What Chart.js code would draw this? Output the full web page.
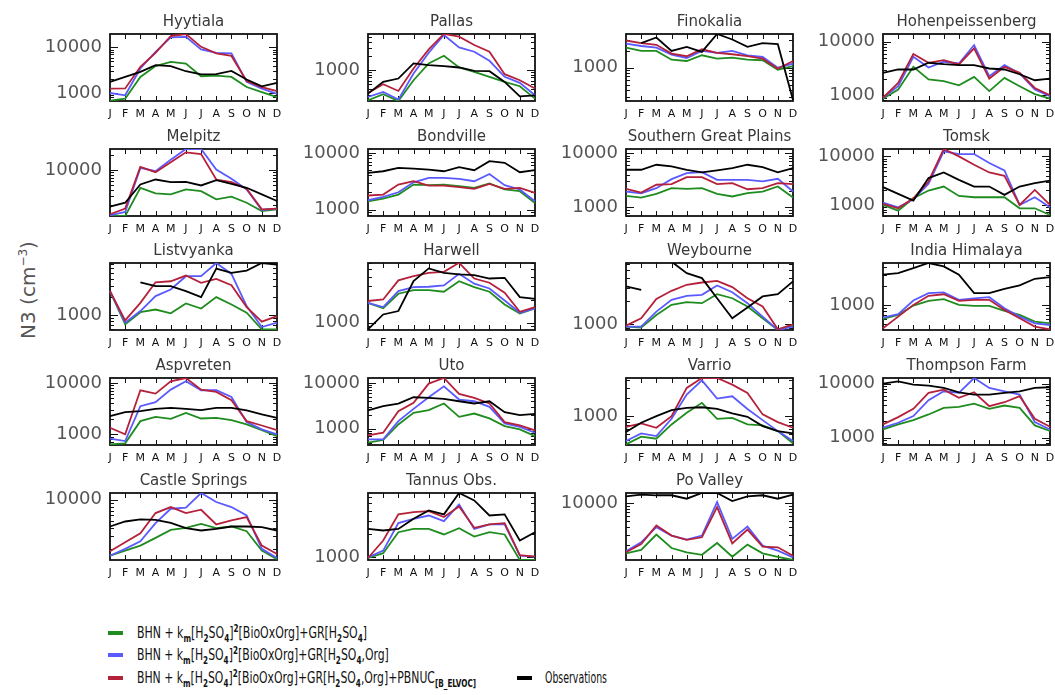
<!DOCTYPE html>
<html>
<head>
<meta charset="utf-8">
<script src="https://cdn.jsdelivr.net/npm/chart.js@4.4.0/dist/chart.umd.min.js"></script>
<style>
  body { margin: 0; width: 1055px; height: 695px; background: #fff; position: relative; overflow: hidden; font-family: "DejaVu Sans", sans-serif; }
  canvas.panel { position: absolute; }
  #ylab { position: absolute; left: 28px; top: 290px; transform: translate(-50%, -50%) rotate(-90deg); font-size: 20px; color: #555; white-space: nowrap; }
  .leg { position: absolute; font-family: "DejaVu Sans Condensed", "DejaVu Sans", sans-serif; font-size: 15px; color: #111; white-space: nowrap; line-height: 18px; }
  .leg .sw { position: absolute; left: 0; top: 7px; width: 15px; height: 4px; }
  .leg .txt { position: absolute; top: 0; display: inline-block; transform-origin: left center; }
  .leg sub, .leg sup { font-size: 10px; font-weight: bold; line-height: 0; }
</style>
</head>
<body>
<div id="ylab">N3 (cm<sup style="font-size:12px">−3</sup>)</div>
<script>
// months on the x axis
const months = ['J','F','M','A','M','J','J','A','S','O','N','D'];

const stations = ['Hyytiala','Pallas','Finokalia','Hohenpeissenberg',
                  'Melpitz','Bondville','Southern Great Plains','Tomsk',
                  'Listvyanka','Harwell','Weybourne','India Himalaya',
                  'Aspvreten','Uto','Varrio','Thompson Farm',
                  'Castle Springs','Tannus Obs.','Po Valley'];

// y axis range of each panel (log scale)
const yRanges = [
  [667,19700],[220,5900],[260,3900],[783,13900],
  [1200,26700],[770,11700],[690,11860],[592,14190],
  [575,7290],[802,6030],[843,6250],[403,4550],
  [622,12500],[442,12840],[329,4350],[733,12710],
  [1390,12450],[923,6840],[1140,14680]
];

const decadeTicks = [100, 1000, 10000, 100000];

// BHN + km[H2SO4]^2[BioOxOrg]+GR[H2SO4]
const grH2SO4 = [
  [680,750,2250,3900,4800,4400,2330,2400,2250,1350,1050,810],
  [228,306,220,610,1390,2030,1140,920,720,562,454,247],
  [2250,1970,1970,1380,1310,1650,1440,1500,1380,1350,920,1060],
  [865,1280,3400,1970,1830,1540,2200,1200,2110,1480,1050,865],
  [1200,1200,4430,3410,3260,4100,3800,2590,2930,2220,1510,1630],
  [1400,1560,1840,2760,2690,2760,2580,2410,2880,2260,2110,1310],
  [1620,1510,1770,2250,2190,2250,1770,1580,1815,1950,2420,1510],
  [1000,764,1370,1980,2390,1530,1440,1440,1440,853,853,621],
  [2510,712,1130,1250,1080,1570,1300,2000,1510,1110,589,589],
  [1820,1540,2390,2670,2670,2540,3490,2920,2540,1730,1320,1540],
  [933,906,1320,1790,1940,1880,2460,2180,1700,1200,843,961],
  [601,695,976,1160,1230,1000,963,963,804,695,545,514],
  [640,670,1810,2200,2010,2620,2040,2100,1890,1560,1210,929],
  [497,568,1240,2230,2550,3560,1820,2150,1680,1140,970,693],
  [337,453,419,727,1140,1670,903,938,727,699,562,350],
  [1420,1760,2110,2690,3560,3720,4280,3420,3940,3560,1690,1330],
  [1600,1890,2230,2870,3730,3980,4540,3940,4160,3570,1890,1430],
  [980,1130,2120,2340,2340,1980,2390,1860,2120,1980,923,923],
  [1470,1670,3010,1800,1530,1390,2180,1290,2050,1470,1290,1140]
];

// BHN + km[H2SO4]^2[BioOxOrg]+GR[H2SO4,Org]
const grH2SO4Org = [
  [1000,890,3450,8000,16600,17000,9000,7600,7400,1750,1250,960],
  [268,343,235,848,2350,5620,3060,2470,1585,720,535,291],
  [2650,2400,2250,1700,1480,1970,1820,1970,1650,1540,1000,1180],
  [900,1480,5230,3300,4220,3920,8650,2280,3650,2550,1280,960],
  [1240,1445,11140,9550,16300,26700,26700,10300,6710,4100,1585,1690],
  [1460,1670,2020,3030,3620,3620,3480,3160,4250,2690,2260,1400],
  [1950,1815,2250,3300,4260,4450,3200,3200,3200,2990,3350,1950],
  [1120,896,1310,2720,12700,11170,11170,7280,5130,1000,1440,896],
  [2510,758,1180,2080,2670,4420,4420,7290,4820,1420,644,758],
  [1820,1600,2590,2920,2950,3070,4350,3230,2800,1950,1350,1540],
  [933,933,1460,2080,2340,2410,3190,2610,1880,1260,843,933],
  [631,713,1170,1530,1570,1200,1270,1320,885,654,514,483],
  [824,743,3530,4230,7430,10770,7220,7220,5350,1730,1250,1000],
  [586,586,1470,2720,4880,8470,4350,3990,3010,1310,1100,818],
  [383,514,464,903,2300,3980,1970,2150,1320,858,562,383],
  [1530,1890,2510,4930,7220,6730,12710,8320,7220,6280,1940,1420],
  [1600,2000,2570,4640,7440,7690,12450,9260,7860,5970,2000,1480],
  [1000,1220,2780,3160,3490,2950,4860,2340,2670,2670,1050,1020],
  [1585,2240,3980,2890,2480,2890,10390,2550,4080,1970,1630,1260]
];

// ... +GR[H2SO4,Org]+PBNUC[B_ELVOC]
const grOrgPbnuc = [
  [1250,1260,3750,7600,17800,19700,10300,7400,6500,1830,1350,1100],
  [327,500,360,1085,2770,5910,5180,3430,2470,820,610,405],
  [3000,2700,2520,1770,1590,2100,1820,1720,1590,1440,960,1310],
  [900,1700,5870,4040,4530,3760,7500,2050,3400,2620,1370,1000],
  [1300,1690,11660,9120,14450,22900,21200,6500,5750,4230,1630,1690],
  [1770,1840,2760,3160,2650,2650,2480,2320,2840,2320,2410,1970],
  [2190,1870,2600,2670,3590,3590,2670,2780,2150,2250,2780,2670],
  [1050,853,1370,3040,14190,10000,6730,4670,3980,1000,2040,1000],
  [2510,828,1610,3510,3650,4530,3430,3990,3140,1370,788,975],
  [1920,2010,3570,4060,4490,4630,6060,3780,3330,2460,1390,1600],
  [961,1200,2140,2720,3260,3490,3670,3040,2180,1700,861,1000],
  [428,654,1000,1390,1470,1160,1200,1200,834,615,455,413],
  [1345,1000,7220,6220,10770,12500,7430,6700,4620,1810,1490,1210],
  [716,818,2420,3670,9680,12840,5770,4720,3560,1400,1180,920],
  [664,755,639,1000,2970,4350,4350,3370,2450,1070,794,639],
  [1760,2400,3420,6730,7760,5450,6920,3830,4530,5850,2240,1590],
  [1850,2480,3340,6460,7860,6460,7200,4450,5070,5650,2230,1690],
  [980,1650,3610,3860,3980,3330,4580,2420,2670,2780,1070,1020],
  [1530,2100,4250,2890,2450,2710,8580,2150,3640,1900,1850,1340]
];

// Observations
const observed = [
  [1750,2250,2900,4100,3900,3000,2550,2600,3050,1970,1400,1660],
  [316,562,663,1390,1280,1220,1140,968,952,562,277,291],
  [null,2700,3390,1970,2320,1890,3900,3120,2320,2700,2580,270],
  [2620,3030,3030,4040,3810,3650,3650,3160,3030,2470,1910,2050],
  [1850,2220,5170,6500,5750,5850,4940,6310,5330,4430,3260,2400],
  [4440,4740,5440,5290,5080,4740,5590,4940,7130,6670,4560,4940],
  [4910,4910,6080,5670,4910,4390,4780,5270,6080,5510,4390,5270],
  [2320,1690,1230,3570,4670,3290,2390,2390,1610,2390,2800,3180],
  [null,null,3510,3030,3030,2510,2000,5890,5000,5470,7290,6850],
  [819,1280,1420,3490,5120,4490,4270,4190,3780,3860,2160,2050],
  [3100,2800,null,6500,4620,3980,2180,1200,1650,2300,2460,3610],
  [2980,3160,3790,4550,4030,2980,1530,1530,1790,2020,2570,2730],
  [2260,2700,2830,3140,3280,3140,2960,3280,3280,2920,2440,2100],
  [2510,3110,3560,4880,4720,4490,3990,3560,3990,2300,1980,2120],
  [541,774,1000,1260,1380,1410,1320,1110,975,681,562,514],
  [10000,11040,9590,9190,8320,6920,6280,6280,6730,7220,8320,8570],
  [4160,4900,5240,5170,4690,3940,3650,3850,4160,4160,4070,3650],
  [2340,2230,2340,3160,4060,3610,6840,5480,3490,3610,1650,2120],
  [12920,13770,13460,13460,11810,14680,14680,10800,12920,13460,11810,13770]
];

const seriesData = [grH2SO4, grH2SO4Org, grOrgPbnuc, observed];
const seriesColors = ['#1f8c1f', '#5a5aff', '#b5213a', '#000000'];
const seriesNames = [
  'BHN + k<sub>m</sub>[H<sub>2</sub>SO<sub>4</sub>]<sup>2</sup>[BioOxOrg]+GR[H<sub>2</sub>SO<sub>4</sub>]',
  'BHN + k<sub>m</sub>[H<sub>2</sub>SO<sub>4</sub>]<sup>2</sup>[BioOxOrg]+GR[H<sub>2</sub>SO<sub>4</sub>,Org]',
  'BHN + k<sub>m</sub>[H<sub>2</sub>SO<sub>4</sub>]<sup>2</sup>[BioOxOrg]+GR[H<sub>2</sub>SO<sub>4</sub>,Org]+PBNUC<sub>[B_ELVOC]</sub>',
  'Observations'
];

// panel grid (plot area corners)
const colLeft = [110, 368, 626, 883];
const rowTop = [34, 149, 263, 378, 493];
const plotW = 167, plotH = 67, axisW = 80, titleH = 28, xAxisH = 24;

// box with inward ticks, IDL style
const idlFrame = {
  id: 'idlFrame',
  beforeDatasetsDraw(chart) {
    const { ctx, chartArea: a, scales } = chart;
    const x = scales.x, y = scales.y;
    ctx.save();
    ctx.strokeStyle = '#111';
    ctx.lineWidth = 1;
    ctx.beginPath();
    for (let i = 1; i < months.length - 1; i++) {
      const px = Math.round(x.getPixelForValue(i)) + 0.5;
      ctx.moveTo(px, a.bottom); ctx.lineTo(px, a.bottom - 5);
      ctx.moveTo(px, a.top); ctx.lineTo(px, a.top + 5);
    }
    const e0 = Math.floor(Math.log10(y.min)), e1 = Math.ceil(Math.log10(y.max));
    for (let e = e0; e <= e1; e++) {
      for (let k = 1; k < 10; k++) {
        const v = k * Math.pow(10, e);
        if (v <= y.min || v >= y.max) continue;
        const py = Math.round(y.getPixelForValue(v)) + 0.5;
        const len = k === 1 ? 8 : 4;
        ctx.moveTo(a.left, py); ctx.lineTo(a.left + len, py);
        ctx.moveTo(a.right, py); ctx.lineTo(a.right - len, py);
      }
    }
    ctx.stroke();
    ctx.lineWidth = 1.8;
    ctx.strokeRect(a.left, a.top, a.right - a.left, a.bottom - a.top);
    ctx.restore();
  }
};

stations.forEach((name, s) => {
  const col = s % 4, row = Math.floor(s / 4);
  const cv = document.createElement('canvas');
  cv.className = 'panel';
  cv.width = plotW + 2 * axisW;
  cv.height = titleH + plotH + xAxisH;
  cv.style.left = (colLeft[col] - axisW) + 'px';
  cv.style.top = (rowTop[row] - titleH) + 'px';
  document.body.appendChild(cv);

  const [ymin, ymax] = yRanges[s];
  const datasets = seriesData.map((series, k) => ({
    label: 'series' + k,
    data: series[s],
    borderColor: seriesColors[k],
    borderWidth: 1.8,
    pointRadius: 0,
    tension: 0,
    spanGaps: false,
    fill: false,
    order: k === 3 ? 0 : 4 - k
  }));

  new Chart(cv, {
    type: 'line',
    data: { labels: months, datasets: datasets },
    options: {
      responsive: false,
      animation: false,
      devicePixelRatio: 1,
      layout: { padding: 0 },
      plugins: {
        legend: { display: false },
        tooltip: { enabled: false },
        title: {
          display: true,
          text: name,
          color: '#383838',
          font: { family: 'DejaVu Sans', size: 15, weight: 'normal', lineHeight: 1.2 },
          padding: { top: 7, bottom: 3 }
        }
      },
      scales: {
        x: {
          type: 'category',
          offset: false,
          grid: { display: false, drawTicks: false },
          border: { display: false },
          ticks: { autoSkip: false, maxRotation: 0, padding: 7, color: '#111',
                   font: { family: 'DejaVu Sans', size: 11, weight: 'normal' } },
          afterFit: (sc) => { sc.height = xAxisH; }
        },
        y: {
          type: 'logarithmic',
          position: 'left',
          min: ymin, max: ymax,
          grid: { display: false, drawTicks: false },
          border: { display: false },
          afterBuildTicks: (sc) => {
            sc.ticks = decadeTicks.filter(v => v >= sc.min && v <= sc.max).map(v => ({ value: v }));
          },
          ticks: { padding: 8, color: '#555', font: { family: 'DejaVu Sans', size: 18 },
                   callback: (v) => String(v) },
          afterFit: (sc) => { sc.width = axisW; }
        },
        y2: {
          type: 'logarithmic',
          position: 'right',
          min: ymin, max: ymax,
          grid: { display: false, drawTicks: false },
          border: { display: false },
          ticks: { display: false },
          afterFit: (sc) => { sc.width = axisW; }
        }
      }
    },
    plugins: [idlFrame]
  });
});

// legend, drawn as html so the sub/superscripts stay real text
const legendPos = [[108, 633], [108, 655], [108, 678], [517, 678]];
const legendTextWidth = [230, 252, 339, 62];
seriesNames.forEach((txt, k) => {
  const d = document.createElement('div');
  d.className = 'leg';
  d.style.left = legendPos[k][0] + 'px';
  d.style.top = (legendPos[k][1] - 9) + 'px';
  d.innerHTML = '<span class="sw" style="background:' + seriesColors[k] + '"></span>' +
                '<span class="txt" style="left:' + (k === 3 ? 28 : 29) + 'px">' + txt + '</span>';
  document.body.appendChild(d);
  const t = d.querySelector('.txt');
  const w = t.getBoundingClientRect().width;
  t.style.transform = 'scaleX(' + (legendTextWidth[k] / w).toFixed(3) + ')';
});
</script>
</body>
</html>
